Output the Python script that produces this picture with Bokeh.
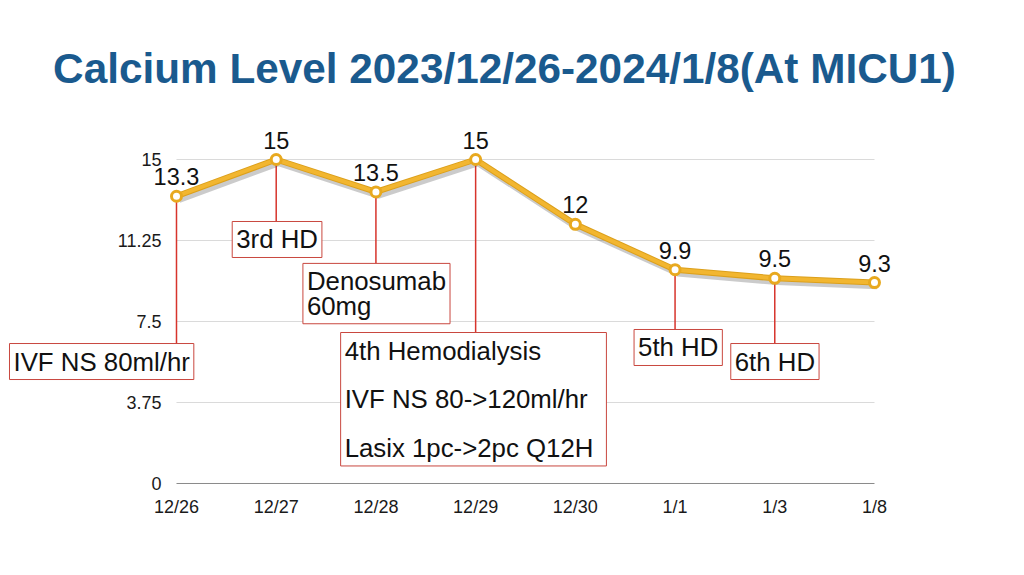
from bokeh.plotting import figure
from bokeh.models import Label, LabelSet, FixedTicker, ColumnDataSource, Range1d
from bokeh.core.properties import value
from bokeh.embed import file_html
from bokeh.resources import INLINE

# ---- data ----
dates = ["12/26", "12/27", "12/28", "12/29", "12/30", "1/1", "1/3", "1/8"]
calcium = [13.3, 15, 13.5, 15, 12, 9.9, 9.5, 9.3]
y_ticks = [0, 3.75, 7.5, 11.25, 15]
y_tick_labels = ["0", "3.75", "7.5", "11.25", "15"]
note_dates = ["12/26", "12/27", "12/28", "12/29", "1/1", "1/3"]
note_texts = [
    "IVF NS 80ml/hr",
    "3rd HD",
    "Denosumab\n60mg",
    "4th Hemodialysis\n\nIVF NS 80->120ml/hr\n\nLasix 1pc->2pc Q12H",
    "5th HD",
    "6th HD",
]
title_text = "Calcium Level 2023/12/26-2024/1/8(At MICU1)"

# ---- layout of the note boxes (positions, not data) ----
note_box_top = [6.48, 12.13, 10.19, 6.99, 7.13, 6.48]      # y of box top (axis units)
note_box_left_px = [-167, -44, -73, -135, -41, -44]        # box left edge relative to point, px
note_pad_right = [4, 4, 4, 13, 4, 4]

FONT = "Liberation Sans"
GOLD = "#f2b630"
RED = "#d7342c"

xs = list(range(len(dates)))
idx = {d: i for i, d in enumerate(dates)}

# frame covers the whole slide below the title; axes are pinned at x=0 / y=0
p = figure(width=1008, height=559, output_backend="svg", toolbar_location=None,
           x_range=Range1d(-1.765, 8.344), y_range=Range1d(-3.519, 17.917),
           min_border=0, min_border_top=96)
p.outline_line_color = None
p.grid.visible = False
p.background_fill_color = "white"

p.title.text = title_text
p.title.text_font = FONT
p.title.text_font_size = "42.3px"
p.title.text_font_style = "bold"
p.title.text_color = "#1a5a8e"
p.title.align = "center"

# axes
for ax in (p.xaxis, p.yaxis):
    ax.fixed_location = 0
    ax.axis_line_color = None
    ax.major_tick_line_color = None
    ax.minor_tick_line_color = None
    ax.major_label_text_font = FONT
    ax.major_label_text_font_size = "18px"
    ax.major_label_text_color = "#1a1a1a"
p.xaxis.ticker = FixedTicker(ticks=xs)
p.xaxis.major_label_overrides = {i: d for i, d in zip(xs, dates)}
p.xaxis.major_label_standoff = 8
p.yaxis.ticker = FixedTicker(ticks=y_ticks)
p.yaxis.major_label_overrides = {t: l for t, l in zip(y_ticks, y_tick_labels)}
p.yaxis.major_label_standoff = 9

# grid lines drawn over the data span only
n = len(dates) - 1
gy = [t for t in y_ticks if t != 0]
p.segment(x0=[0] * len(gy), y0=gy, x1=[n] * len(gy), y1=gy, line_color="#dadada", line_width=1)
p.segment(x0=[0], y0=[0], x1=[n], y1=[0], line_color="#8a8a8a", line_width=1)

# red connector lines
nx = [idx[d] for d in note_dates]
ny = [calcium[i] for i in nx]
p.segment(x0=nx, y0=ny, x1=nx, y1=note_box_top, line_color=RED, line_width=1.5)

# line with shadow
p.line([x + 0.025 for x in xs], [v - 0.15 for v in calcium], line_color="#444444",
       line_alpha=0.28, line_width=7)
p.line(xs, calcium, line_color="#dca01c", line_width=6)
p.line(xs, calcium, line_color=GOLD, line_width=4)
p.scatter(xs, calcium, size=10, fill_color="white", line_color="#e8a91f", line_width=3)

# value labels
src = ColumnDataSource(dict(x=xs, y=calcium, t=[f"{v:g}" for v in calcium]))
p.add_layout(LabelSet(x="x", y="y", text="t", source=src, y_offset=11,
                      text_align="center", text_baseline="alphabetic",
                      text_font=value(FONT), text_font_size=value("23.5px"),
                      text_color="#111111"))

# note boxes
for i, txt, top, loff, pr in zip(nx, note_texts, note_box_top, note_box_left_px, note_pad_right):
    p.add_layout(Label(x=i, y=top, x_offset=loff, y_offset=0, text=txt,
                       text_align="left", text_baseline="top",
                       text_font=FONT, text_font_size="25.8px", text_color="#111111",
                       text_line_height=0.87,
                       padding=dict(left=4, right=pr, top=4, bottom=4),
                       background_fill_color="white",
                       border_line_color="#c9473f", border_line_width=1))

open("out.html", "w").write(file_html(p, INLINE))
